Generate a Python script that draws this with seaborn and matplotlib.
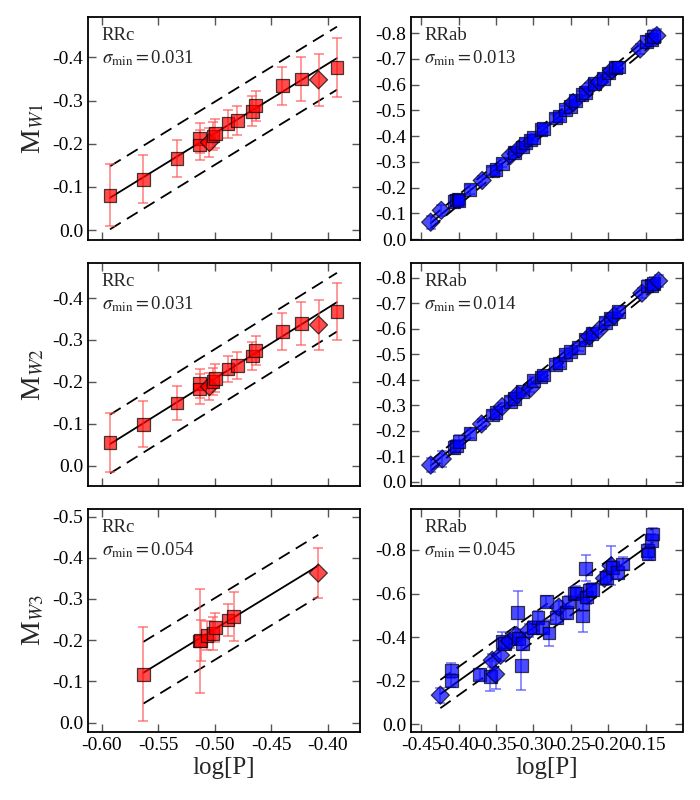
import numpy as np
import pandas as pd
import matplotlib
matplotlib.use('Agg')
import matplotlib.pyplot as plt
import seaborn as sns

# ---- RRc, W1 ----
rrc_w1_logp = [-0.5926, -0.5630, -0.5334, -0.5133, -0.5133, -0.5047, -0.5015, -0.4994,
               -0.4882, -0.4800, -0.4669, -0.4639, -0.4402, -0.4234, -0.4083, -0.3920]
rrc_w1_mag = [-0.081, -0.118, -0.166, -0.213, -0.197, -0.203, -0.218, -0.224,
              -0.246, -0.254, -0.275, -0.288, -0.334, -0.350, -0.348, -0.377]
rrc_w1_err = [0.071, 0.055, 0.042, 0.035, 0.035, 0.033, 0.033, 0.033,
              0.033, 0.033, 0.035, 0.035, 0.044, 0.051, 0.060, 0.068]
rrc_w1_kind = ['s', 's', 's', 's', 's', 'D', 's', 's', 's', 's', 's', 's', 's', 's', 'D', 's']

# ---- RRc, W2 ----
rrc_w2_logp = rrc_w1_logp
rrc_w2_mag = [-0.056, -0.099, -0.150, -0.196, -0.183, -0.189, -0.201, -0.209,
              -0.231, -0.239, -0.262, -0.275, -0.320, -0.340, -0.336, -0.368]
rrc_w2_err = [0.070, 0.055, 0.041, 0.035, 0.035, 0.033, 0.033, 0.033,
              0.032, 0.032, 0.034, 0.035, 0.044, 0.051, 0.059, 0.068]
rrc_w2_kind = rrc_w1_kind

# ---- RRc, W3 ----
rrc_w3_logp = [-0.5631, -0.5134, -0.5125, -0.5069, -0.5016, -0.4996, -0.4883, -0.4833, -0.4085]
rrc_w3_mag = [-0.117, -0.198, -0.200, -0.211, -0.217, -0.230, -0.249, -0.258, -0.363]
rrc_w3_err = [0.114, 0.126, 0.050, 0.035, 0.040, 0.035, 0.040, 0.060, 0.061]
rrc_w3_kind = ['s', 's', 's', 's', 's', 's', 's', 's', 'D']

# ---- RRab, W1 ----
rrab_w1_logp = [-0.4375, -0.4233, -0.4064, -0.4030, -0.4010, -0.3997, -0.3850, -0.3686,
                -0.3552, -0.3500, -0.3419, -0.3307, -0.3250, -0.3196, -0.3150, -0.3107,
                -0.3040, -0.2996, -0.2900, -0.2862, -0.2707, -0.2650, -0.2573, -0.2506,
                -0.2470, -0.2440, -0.2350, -0.2306, -0.2250, -0.2186, -0.2120, -0.2061,
                -0.1994, -0.1950, -0.1900, -0.1861, -0.1572, -0.1483, -0.1420, -0.1394,
                -0.1349]
rrab_w1_mag = [-0.066, -0.112, -0.146, -0.152, -0.156, -0.150, -0.192, -0.228,
               -0.265, -0.270, -0.295, -0.325, -0.335, -0.350, -0.358, -0.373,
               -0.385, -0.395, -0.425, -0.431, -0.470, -0.478, -0.502, -0.515,
               -0.530, -0.539, -0.560, -0.570, -0.590, -0.603, -0.610, -0.625,
               -0.645, -0.655, -0.665, -0.668, -0.738, -0.768, -0.775, -0.787,
               -0.790]
rrab_w1_err = [0.025, 0.022, 0.025, 0.020, 0.020, 0.018, 0.018, 0.018,
               0.016, 0.015, 0.015, 0.015, 0.015, 0.016, 0.015, 0.015,
               0.015, 0.015, 0.015, 0.015, 0.016, 0.015, 0.015, 0.015,
               0.015, 0.015, 0.016, 0.016, 0.016, 0.016, 0.016, 0.016,
               0.016, 0.016, 0.018, 0.018, 0.020, 0.022, 0.022, 0.024,
               0.024]
rrab_w1_kind = ['D', 'D', 's', 's', 's', 's', 's', 'D', 's', 's', 's', 'D', 's', 'D',
                's', 's', 's', 's', 's', 's', 's', 's', 's', 's', 'D', 's', 's', 's',
                'D', 's', 'D', 's', 's', 'D', 's', 's', 'D', 's', 's', 's', 'D']

# ---- RRab, W2 ----
rrab_w2_logp = [-0.4375, -0.4220, -0.4064, -0.4030, -0.3997, -0.3850, -0.3694, -0.3552,
                -0.3500, -0.3418, -0.3307, -0.3250, -0.3218, -0.3151, -0.3040, -0.2995,
                -0.2900, -0.2861, -0.2706, -0.2650, -0.2572, -0.2500, -0.2394, -0.2305,
                -0.2250, -0.2216, -0.2120, -0.2038, -0.1971, -0.1920, -0.1860, -0.1548,
                -0.1481, -0.1420, -0.1392, -0.1325]
rrab_w2_mag = [-0.065, -0.089, -0.135, -0.140, -0.157, -0.190, -0.226, -0.261,
               -0.270, -0.294, -0.314, -0.325, -0.340, -0.353, -0.366, -0.396,
               -0.410, -0.418, -0.458, -0.465, -0.497, -0.510, -0.527, -0.558,
               -0.570, -0.582, -0.595, -0.624, -0.641, -0.650, -0.667, -0.739,
               -0.767, -0.770, -0.778, -0.787]
rrab_w2_err = [0.028, 0.030, 0.025, 0.022, 0.025, 0.018, 0.018, 0.016,
               0.016, 0.015, 0.016, 0.015, 0.016, 0.016, 0.015, 0.015,
               0.015, 0.015, 0.015, 0.015, 0.015, 0.015, 0.015, 0.016,
               0.016, 0.016, 0.016, 0.016, 0.016, 0.016, 0.018, 0.020,
               0.022, 0.022, 0.024, 0.024]
rrab_w2_kind = ['D', 'D', 's', 's', 's', 's', 'D', 's', 's', 'D', 's', 's', 'D', 's',
                'D', 's', 's', 's', 's', 's', 's', 's', 's', 's', 'D', 's', 'D', 's',
                's', 'D', 's', 'D', 's', 's', 's', 'D']

# ---- RRab, W3 ----
rrab_w3_logp = [-0.4246, -0.4099, -0.4099, -0.3720, -0.3578, -0.3551, -0.3506, -0.3440,
                -0.3417, -0.3386, -0.3320, -0.3230, -0.3208, -0.3195, -0.3163, -0.3150,
                -0.3060, -0.3007, -0.2940, -0.2874, -0.2829, -0.2793, -0.2695, -0.2660,
                -0.2562, -0.2526, -0.2450, -0.2428, -0.2339, -0.2339, -0.2303, -0.2286,
                -0.2250, -0.2214, -0.2049, -0.2018, -0.1960, -0.1938, -0.1871, -0.1804,
                -0.1470, -0.1457, -0.1425, -0.1403]
rrab_w3_mag = [-0.134, -0.248, -0.203, -0.229, -0.221, -0.294, -0.230, -0.317,
               -0.382, -0.370, -0.382, -0.408, -0.515, -0.393, -0.271, -0.370,
               -0.431, -0.446, -0.492, -0.446, -0.564, -0.419, -0.492, -0.538,
               -0.515, -0.561, -0.599, -0.603, -0.553, -0.497, -0.716, -0.584,
               -0.614, -0.619, -0.670, -0.675, -0.728, -0.721, -0.698, -0.736,
               -0.797, -0.782, -0.843, -0.873]
rrab_w3_err = [0.035, 0.035, 0.030, 0.025, 0.070, 0.030, 0.070, 0.025,
               0.040, 0.030, 0.030, 0.030, 0.095, 0.030, 0.115, 0.030,
               0.030, 0.030, 0.030, 0.030, 0.025, 0.060, 0.030, 0.030,
               0.030, 0.030, 0.030, 0.030, 0.035, 0.075, 0.060, 0.030,
               0.030, 0.030, 0.030, 0.030, 0.090, 0.030, 0.030, 0.030,
               0.030, 0.030, 0.030, 0.030]
rrab_w3_kind = ['D', 's', 's', 's', 's', 'D', 'D', 'D', 's', 's', 'D', 'D', 's', 's',
                's', 's', 'D', 's', 's', 's', 's', 's', 's', 'D', 's', 's', 's', 's',
                's', 's', 's', 's', 's', 's', 'D', 's', 'D', 's', 's', 's', 's', 's',
                's', 's']

# fit lines: intercept, slope, half-width of dashed band
fit_intercept = [-1.030, -1.051, -1.068, -1.115, -1.106, -1.177]
fit_slope = [-1.612, -1.686, -1.682, -2.406, -2.384, -2.444]
fit_band = [0.073, 0.070, 0.075, 0.020, 0.020, 0.065]
sigma_min = ['0.031', '0.031', '0.054', '0.013', '0.014', '0.045']
band_names = ['W1', 'W2', 'W3']

sns.set_style('ticks')
plt.rcParams['font.family'] = ['Liberation Serif', 'DejaVu Serif']
plt.rcParams['mathtext.fontset'] = 'stix'
plt.rcParams['axes.unicode_minus'] = False
plt.rcParams['xtick.direction'] = 'in'
plt.rcParams['ytick.direction'] = 'in'
plt.rcParams['xtick.top'] = True
plt.rcParams['ytick.right'] = True

fig = plt.figure(figsize=(7, 8), dpi=100)

panels = [
    (rrc_w1_logp, rrc_w1_mag, rrc_w1_err, rrc_w1_kind),
    (rrc_w2_logp, rrc_w2_mag, rrc_w2_err, rrc_w2_kind),
    (rrc_w3_logp, rrc_w3_mag, rrc_w3_err, rrc_w3_kind),
    (rrab_w1_logp, rrab_w1_mag, rrab_w1_err, rrab_w1_kind),
    (rrab_w2_logp, rrab_w2_mag, rrab_w2_err, rrab_w2_kind),
    (rrab_w3_logp, rrab_w3_mag, rrab_w3_err, rrab_w3_kind),
]

lefts = [0.1257, 0.587]
bottoms = [0.700, 0.3925, 0.085]
width = 0.388
height = 0.279

ylims = [(0.023, -0.494), (0.048, -0.484), (0.023, -0.519),
         (0.003, -0.863), (0.017, -0.858), (0.035, -0.989)]
yticks = [np.arange(0, -0.45, -0.1), np.arange(0, -0.45, -0.1), np.arange(0, -0.55, -0.1),
          np.arange(0, -0.85, -0.1), np.arange(0, -0.85, -0.1), np.arange(0, -0.85, -0.2)]

for i, (logp, mag, err, kind) in enumerate(panels):
    col = i // 3
    row = i % 3
    ax = fig.add_axes([lefts[col], bottoms[row], width, height])
    face = 'red' if col == 0 else 'blue'
    errc = '#ff5555' if col == 0 else '#4444ff'

    df = pd.DataFrame({'logP': logp, 'mag': mag, 'err': err, 'kind': kind})

    # fit line and scatter band
    xx = np.array([df['logP'].min(), df['logP'].max()])
    line = pd.DataFrame({'logP': xx, 'mag': fit_intercept[i] + fit_slope[i] * xx})
    sns.lineplot(data=line, x='logP', y='mag', ax=ax, color='black', lw=1.3, zorder=2)
    for sgn in (-1, 1):
        ax.plot(xx, line['mag'] + sgn * fit_band[i], color='black', lw=1.3,
                dashes=(7, 4), zorder=2)

    ax.errorbar(df['logP'], df['mag'], yerr=df['err'], fmt='none', ecolor=errc,
                alpha=0.7, elinewidth=1.2, capsize=3.5, capthick=1.2, zorder=3)
    sns.scatterplot(data=df, x='logP', y='mag', style='kind', markers={'s': 's', 'D': 'D'},
                    color=face, edgecolor='black', linewidth=0.9, alpha=0.7, s=85,
                    legend=False, ax=ax, zorder=4)

    if col == 0:
        ax.set_xlim(-0.612, -0.372)
        ax.set_xticks([-0.60, -0.55, -0.50, -0.45, -0.40])
    else:
        ax.set_xlim(-0.464, -0.1005)
        ax.set_xticks([-0.45, -0.40, -0.35, -0.30, -0.25, -0.20, -0.15])
    ax.xaxis.set_major_formatter(plt.FormatStrFormatter('%.2f'))
    ax.set_ylim(*ylims[i])
    ax.set_yticks(yticks[i])
    ax.yaxis.set_major_formatter(plt.FormatStrFormatter('%.1f'))
    ax.tick_params(labelsize=14, length=6, width=1, colors='#555555', labelcolor='black')
    for sp in ax.spines.values():
        sp.set_linewidth(1.3)
        sp.set_color('black')

    if row < 2:
        ax.set_xticklabels([])
        ax.set_xlabel('')
    else:
        ax.set_xlabel('log[P]', fontsize=18, labelpad=2)
    if col == 0:
        ax.set_ylabel(r'M$_{W%s}$' % band_names[row][1], fontsize=20, labelpad=4)
    else:
        ax.set_ylabel('')

    name = 'RRc' if col == 0 else 'RRab'
    ax.text(0.05, 0.955, name + '\n' + r'$\sigma_{\rm min}=$' + sigma_min[i],
            transform=ax.transAxes, ha='left', va='top', fontsize=13.5, linespacing=1.3)

fig.savefig('out.png', dpi=100)
